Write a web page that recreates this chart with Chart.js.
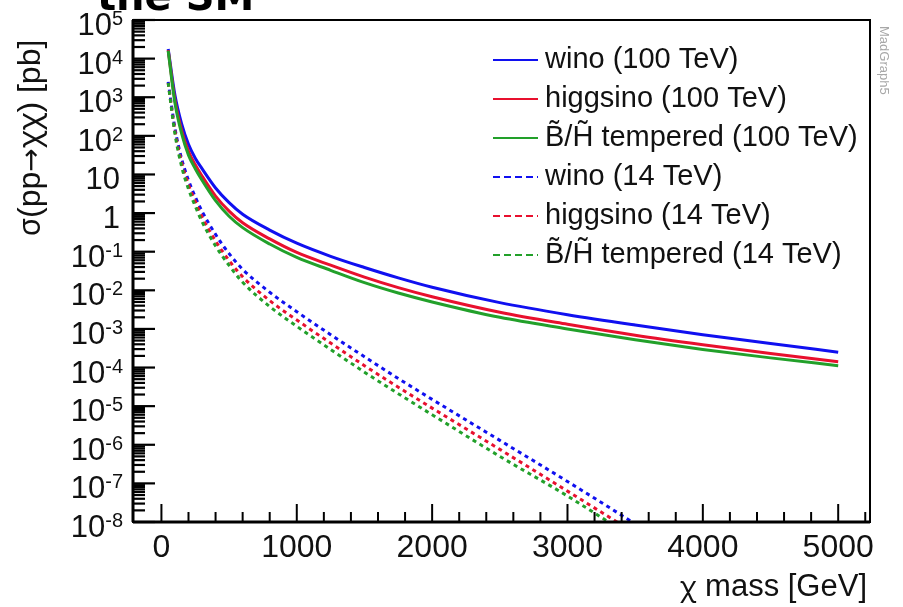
<!DOCTYPE html>
<html>
<head>
<meta charset="utf-8">
<script src="https://cdn.jsdelivr.net/npm/chart.js@4.4.0/dist/chart.umd.min.js"></script>
<style>
  html, body { margin: 0; padding: 0; background: #fff; }
  #wrap { width: 903px; height: 607px; }
</style>
</head>
<body>
<div id="wrap"><canvas id="myChart" width="903" height="607"></canvas></div>
<script>
// chi mass points [GeV]
const massGeV = [50, 100, 150, 200, 250, 300, 400, 500, 600, 800, 1000, 1250, 1500, 1750, 2000, 2500, 3000, 3500, 4000, 4500, 5000];

// sigma(pp -> chi chi) [pb], 100 TeV
const wino100 = [1.78e4, 1120, 200, 60, 26.3, 14.1, 4.47, 1.86, 0.93, 0.363, 0.166, 0.076, 0.039, 0.021, 0.012, 4.8e-3, 2.34e-3, 1.26e-3, 7.1e-4, 4.2e-4, 2.5e-4];
const higgsino100 = [1.66e4, 832, 135, 39.8, 17.8, 9.1, 2.75, 1.12, 0.56, 0.214, 0.0955, 0.0447, 0.0219, 0.0117, 6.8e-3, 2.7e-3, 1.32e-3, 6.9e-4, 3.9e-4, 2.3e-4, 1.41e-4];
const tempered100 = [1.6e4, 708, 112, 31.6, 14.1, 7.1, 2.1, 0.83, 0.42, 0.158, 0.071, 0.033, 0.0158, 8.5e-3, 5.0e-3, 2.0e-3, 1.0e-3, 5.25e-4, 2.95e-4, 1.78e-4, 1.12e-4];

// 14 TeV (runs off the bottom of the plot past ~3.4 TeV)
const wino14 = [2500, 158, 25, 7.1, 2.63, 1.12, 0.28, 0.089, 0.035, 8.9e-3, 2.8e-3, 7.1e-4, 1.9e-4, 5.2e-5, 1.5e-5, 1.3e-6, 1.12e-7, 8.9e-9, 6.3e-10];
const higgsino14 = [2340, 132, 20, 5.4, 2.0, 0.79, 0.19, 0.059, 0.0224, 5.4e-3, 1.7e-3, 4.3e-4, 1.12e-4, 3.1e-5, 8.9e-6, 7.6e-7, 6.3e-8, 5.0e-9, 3.5e-10];
const tempered14 = [2340, 112, 15.8, 4.2, 1.51, 0.60, 0.141, 0.044, 0.0162, 3.8e-3, 1.17e-3, 2.95e-4, 7.6e-5, 2.1e-5, 6.0e-6, 5.0e-7, 4.7e-8, 3.5e-9, 2.2e-10];

const xTickValues = [0, 1000, 2000, 3000, 4000, 5000];
const yTickExponents = [5, 4, 3, 2, 1, 0, -1, -2, -3, -4, -5, -6, -7, -8];
const seriesNames = ['wino (100 TeV)', 'higgsino (100 TeV)', 'B\u0303/H\u0303 tempered (100 TeV)',
                     'wino (14 TeV)', 'higgsino (14 TeV)', 'B\u0303/H\u0303 tempered (14 TeV)'];

const BLUE = '#1010f0';
const RED = '#e8102e';
const GREEN = '#22a02a';
const FONT = '"Liberation Sans", Arial, Helvetica, sans-serif';
const GREEK = '"Noto Sans", "DejaVu Sans", sans-serif';

function toPoints(vals) {
  return vals.map((v, i) => ({ x: massGeV[i], y: v }));
}

function mkSet(label, vals, color, dashed, order) {
  return {
    label: label,
    data: toPoints(vals),
    borderColor: color,
    borderWidth: 3,
    borderDash: dashed ? [4, 4] : [],
    pointRadius: 0,
    cubicInterpolationMode: 'monotone',
    fill: false,
    order: order,
  };
}

function line(ctx, x1, y1, x2, y2) {
  ctx.beginPath();
  ctx.moveTo(x1, y1);
  ctx.lineTo(x2, y2);
  ctx.stroke();
}

// text made of pieces in different fonts (greek letters from a font with a real chi)
function runsWidth(ctx, runs) {
  let w = 0;
  runs.forEach(r => { ctx.font = r[1]; w += ctx.measureText(r[0]).width; });
  return w;
}
function drawRuns(ctx, runs, x, y) {
  runs.forEach(r => {
    ctx.font = r[1];
    ctx.fillText(r[0], x, y);
    x += ctx.measureText(r[0]).width;
  });
}

// frame + ROOT style ticks
const framePlugin = {
  id: 'frame',
  afterDatasetsDraw(chart) {
    const ctx = chart.ctx;
    const a = chart.chartArea;
    const xs = chart.scales.x;
    const ys = chart.scales.y;
    ctx.save();
    ctx.strokeStyle = '#000';
    ctx.lineWidth = 2;
    ctx.strokeRect(a.left, a.top, a.right - a.left, a.bottom - a.top);
    ctx.lineWidth = 3;
    line(ctx, a.left, a.top, a.left, a.bottom);
    line(ctx, a.left, a.bottom, a.right, a.bottom);

    ctx.lineWidth = 2.2;
    yTickExponents.forEach(e => {
      const py = ys.getPixelForValue(10 ** e);
      line(ctx, a.left, py, a.left + 22, py);
      if (e > -8) {
        for (let k = 2; k <= 9; k++) {
          const p = ys.getPixelForValue(k * 10 ** (e - 1));
          line(ctx, a.left, p, a.left + 12, p);
        }
      }
    });

    ctx.lineWidth = 2;
    for (let v = 0; v <= 5200; v += 200) {
      const px = xs.getPixelForValue(v);
      const len = v % 1000 === 0 ? 18 : 10;
      line(ctx, px, a.bottom, px, a.bottom - len);
    }
    ctx.restore();
  },
  afterDraw(chart) {
    const ctx = chart.ctx;
    const xs = chart.scales.x;
    const ys = chart.scales.y;
    ctx.save();
    ctx.fillStyle = '#111';

    // y tick labels with superscripts
    yTickExponents.forEach(e => {
      const py = ys.getPixelForValue(10 ** e);
      ctx.textAlign = 'right';
      ctx.textBaseline = 'alphabetic';
      if (e === 1 || e === 0) {
        ctx.font = '31px ' + FONT;
        ctx.fillText(e === 1 ? '10' : '1', 120, py + 15);
      } else {
        ctx.font = '20px ' + FONT;
        const sup = String(e);
        ctx.fillText(sup, 123, py + 5);
        const w = ctx.measureText(sup).width;
        ctx.font = '31px ' + FONT;
        ctx.fillText('10', 123 - w, py + 15);
      }
    });

    // x tick labels
    ctx.font = '32px ' + FONT;
    ctx.textAlign = 'center';
    xTickValues.forEach(v => {
      ctx.fillText(String(v), xs.getPixelForValue(v), 557);
    });

    // axis titles
    ctx.textAlign = 'left';
    const xTitle = [['\u03c7', '28px ' + GREEK], [' mass [GeV]', '31px ' + FONT]];
    drawRuns(ctx, xTitle, 867 - runsWidth(ctx, xTitle), 596);

    ctx.save();
    ctx.translate(40, 138);
    ctx.rotate(-Math.PI / 2);
    const yTitle = [['\u03c3', '30px ' + GREEK], ['(pp', '32px ' + FONT], ['\u2192', '28px ' + GREEK],
                    ['\u03c7\u03c7', '30px ' + GREEK], [') [pb]', '32px ' + FONT]];
    drawRuns(ctx, yTitle, -runsWidth(ctx, yTitle) / 2, 0);
    ctx.restore();

    // legend
    const rowY = [60, 99, 138, 177, 216, 255];
    chart.data.datasets.forEach((ds, i) => {
      const y = rowY[i];
      ctx.strokeStyle = ds.borderColor;
      ctx.lineWidth = 2;
      ctx.setLineDash(i >= 3 ? [7, 4] : []);
      line(ctx, 493, y, 538, y);
      ctx.setLineDash([]);
      ctx.font = '29px ' + FONT;
      ctx.textAlign = 'left';
      ctx.textBaseline = 'middle';
      ctx.fillStyle = '#111';
      ctx.fillText(seriesNames[i], 545, y);
    });

    // MadGraph5 stamp
    ctx.save();
    ctx.translate(884, 26);
    ctx.rotate(Math.PI / 2);
    ctx.font = '13px ' + FONT;
    ctx.fillStyle = '#a8a8a8';
    ctx.textAlign = 'left';
    ctx.textBaseline = 'middle';
    ctx.fillText('MadGraph5', 0, 0);
    ctx.restore();

    // cut-off slide title at the very top
    ctx.font = 'bold 40px "DejaVu Sans", sans-serif';
    ctx.fillStyle = '#000';
    ctx.textAlign = 'left';
    ctx.textBaseline = 'alphabetic';
    ctx.fillText('the SM', 97, 10);

    ctx.restore();
  }
};

const ctx = document.getElementById('myChart').getContext('2d');
const myChart = new Chart(ctx, {
  type: 'line',
  data: {
    datasets: [
      mkSet(seriesNames[0], wino100, BLUE, false, 3),
      mkSet(seriesNames[1], higgsino100, RED, false, 2),
      mkSet(seriesNames[2], tempered100, GREEN, false, 1),
      mkSet(seriesNames[3], wino14, BLUE, true, 3),
      mkSet(seriesNames[4], higgsino14, RED, true, 2),
      mkSet(seriesNames[5], tempered14, GREEN, true, 1),
    ],
  },
  options: {
    responsive: false,
    animation: false,
    devicePixelRatio: 1,
    layout: { padding: { left: 133, top: 20, right: 33, bottom: 85 } },
    plugins: { legend: { display: false }, tooltip: { enabled: false } },
    scales: {
      x: { type: 'linear', min: -210, max: 5235, display: false },
      y: { type: 'logarithmic', min: 1e-8, max: 1e5, display: false },
    },
  },
  plugins: [framePlugin],
});
</script>
</body>
</html>
